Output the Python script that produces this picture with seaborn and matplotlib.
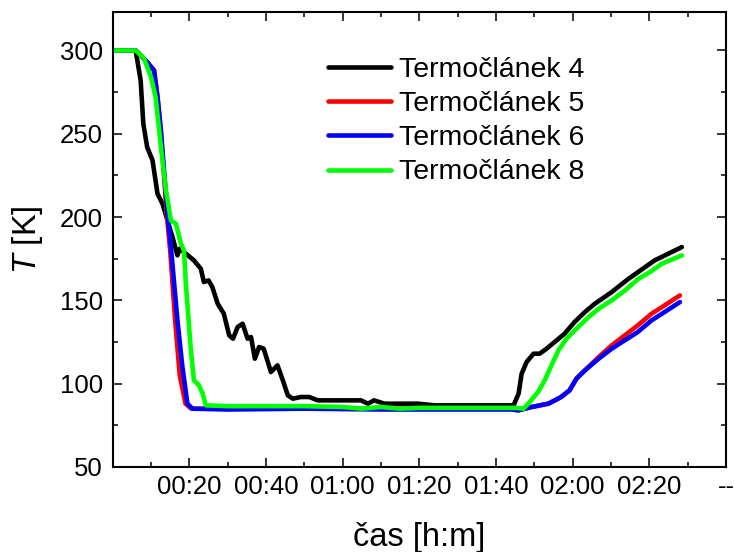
import numpy as np
import pandas as pd
import matplotlib
matplotlib.use("Agg")
import matplotlib.pyplot as plt
from matplotlib.ticker import MultipleLocator, FuncFormatter
import seaborn as sns

# ---- data (time in minutes, temperature in K) ----
t4 = [0, 6, 7.3, 8, 9, 10.4, 11.7, 13, 14.3, 15.6, 16.9, 17.5, 18.6, 21.2, 23, 23.8, 25, 26, 27.4, 29,
      30.4, 31.4, 32.6, 33.9, 35.2, 36.1, 37.1, 38.2, 39.4, 41.3, 43, 44.4, 45.7, 47, 49.1, 51.3, 53.5,
      57.8, 64.8, 66.6, 68.2, 70.9, 79.7, 84, 95, 104.6, 105.9, 106.7, 108, 109.8, 111.4, 113.2, 115.3,
      117.9, 120.5, 123.2, 125.8, 130.2, 134.6, 141.4, 148.5]
T4 = [300, 300, 282, 256, 242, 234, 214, 208, 198, 188, 177, 181, 179, 174, 169, 161, 162, 158, 148, 142,
      129, 127, 134, 136, 127, 128, 115, 122, 121, 107, 111, 102, 93, 91, 92, 92, 90,
      90, 90, 88, 90, 88, 88, 87, 87, 87, 94, 106, 113, 118, 118, 121, 125,
      130, 137, 143, 148, 155, 163, 174, 182]

t5 = [0, 6, 6.5, 9, 10.8, 11.7, 12.5, 13.3, 14.1, 15.0, 16.3, 17.5, 19.0, 20.5, 30, 50, 70, 90, 104,
      105.8, 109.3, 113.7, 117, 119.2, 121, 123.2, 126.8, 130.2, 133.6, 137, 140.6, 144, 148]
T5 = [300, 300, 299, 293, 288, 272, 252, 228, 202, 180, 138, 105, 88, 85, 85, 85, 85, 85, 85,
      84, 86, 88, 92, 96, 103, 108, 116, 123, 129, 135, 142, 147, 153]

t6 = [0, 6, 6.5, 9, 10.8, 11.7, 12.6, 13.4, 14.3, 15.2, 16.9, 18.2, 19.5, 20.8, 30, 50, 70, 90, 104,
      105.8, 109.3, 113.7, 117, 119.2, 121, 123.2, 126.8, 130.2, 133.6, 137, 140.6, 144, 148]
T6 = [300, 300, 299, 293, 288, 272, 252, 228, 202, 182, 138, 110, 88, 85, 84.5, 85, 84.5, 84.5, 84.5,
      84, 86, 88, 92, 96, 103, 108, 115, 121, 126, 131, 138, 143, 149]

t8 = [0, 6, 6.5, 8.2, 10, 11.2, 12.6, 13.9, 15.2, 16.5, 17.8, 18.6, 19.1, 20.4, 21.2, 22.5, 23.5, 24.3,
      30, 40, 50, 60, 65, 70, 75, 80, 90, 100, 105, 107.2, 108.8, 111, 112.7, 114.5, 116.3, 118.4,
      121, 124.2, 126.8, 130.2, 133.7, 137.2, 140.2, 143.3, 148.5]
T8 = [300, 300, 299, 295, 284, 272, 242, 216, 198, 196, 184, 180, 160, 120, 102, 99, 94, 87,
      86.5, 86.5, 86.5, 86, 85, 86, 85, 85.5, 85.5, 85.5, 85.5, 85, 89, 95, 102, 111, 120, 127,
      133, 140, 145, 150, 156, 163, 167, 172, 177]

series_names = ["Termočlánek 4", "Termočlánek 5", "Termočlánek 6", "Termočlánek 8"]
series_colors = ["#000000", "#ff0000", "#0000ff", "#00ff00"]
x_tick_labels = ["", "00:20", "00:40", "01:00", "01:20", "01:40", "02:00", "02:20", "--"]

frames = []
for name, t, T in zip(series_names, [t4, t5, t6, t8], [T4, T5, T6, T8]):
    frames.append(pd.DataFrame({"t": t, "T": T, "series": name}))
df = pd.concat(frames, ignore_index=True)

sns.set_style("ticks")
plt.rcParams["font.family"] = ["Liberation Sans", "DejaVu Sans"]
plt.rcParams["mathtext.fontset"] = "custom"
plt.rcParams["mathtext.it"] = "Liberation Sans:italic"
plt.rcParams["mathtext.rm"] = "Liberation Sans"
plt.rcParams["text.color"] = "black"
plt.rcParams["axes.labelcolor"] = "black"

fig = plt.figure(figsize=(7.34, 5.52), dpi=100)
ax = fig.add_axes([0.1535, 0.154, 0.8355, 0.824])

sns.lineplot(data=df, x="t", y="T", hue="series", palette=dict(zip(series_names, series_colors)),
             estimator=None, sort=False, linewidth=3.3, ax=ax)

ax.set_xlim(0, 160)
ax.set_ylim(50, 323)
ax.xaxis.set_major_locator(MultipleLocator(20))
ax.xaxis.set_minor_locator(MultipleLocator(10))
ax.yaxis.set_major_locator(MultipleLocator(50))
ax.yaxis.set_minor_locator(MultipleLocator(25))


def fmt(v, pos):
    i = int(round(v / 20))
    if 0 <= i < len(x_tick_labels):
        return x_tick_labels[i]
    return ""


ax.xaxis.set_major_formatter(FuncFormatter(fmt))
ax.tick_params(which="both", direction="in", top=True, right=True, width=1.1, colors="black")
ax.tick_params(which="major", length=6.7, labelsize=18.5)
ax.tick_params(which="minor", length=3.6)
ax.tick_params(axis="x", which="major", pad=6)
ax.tick_params(axis="y", which="major", pad=7)
for s in ax.spines.values():
    s.set_linewidth(1.5)
    s.set_color("black")

ax.set_xlabel("čas [h:m]", fontsize=23.5, labelpad=16)
ax.set_ylabel(r"$T$ [K]", fontsize=23.5, labelpad=11)

leg = ax.legend(loc="upper left", bbox_to_anchor=(0.351, 0.902), frameon=False, fontsize=20.5,
                handlelength=2.2, handletextpad=0.28, labelspacing=0.29, borderpad=0, borderaxespad=0)
for h in leg.get_lines():
    h.set_linewidth(3.3)

fig.savefig("out.png", dpi=100)
